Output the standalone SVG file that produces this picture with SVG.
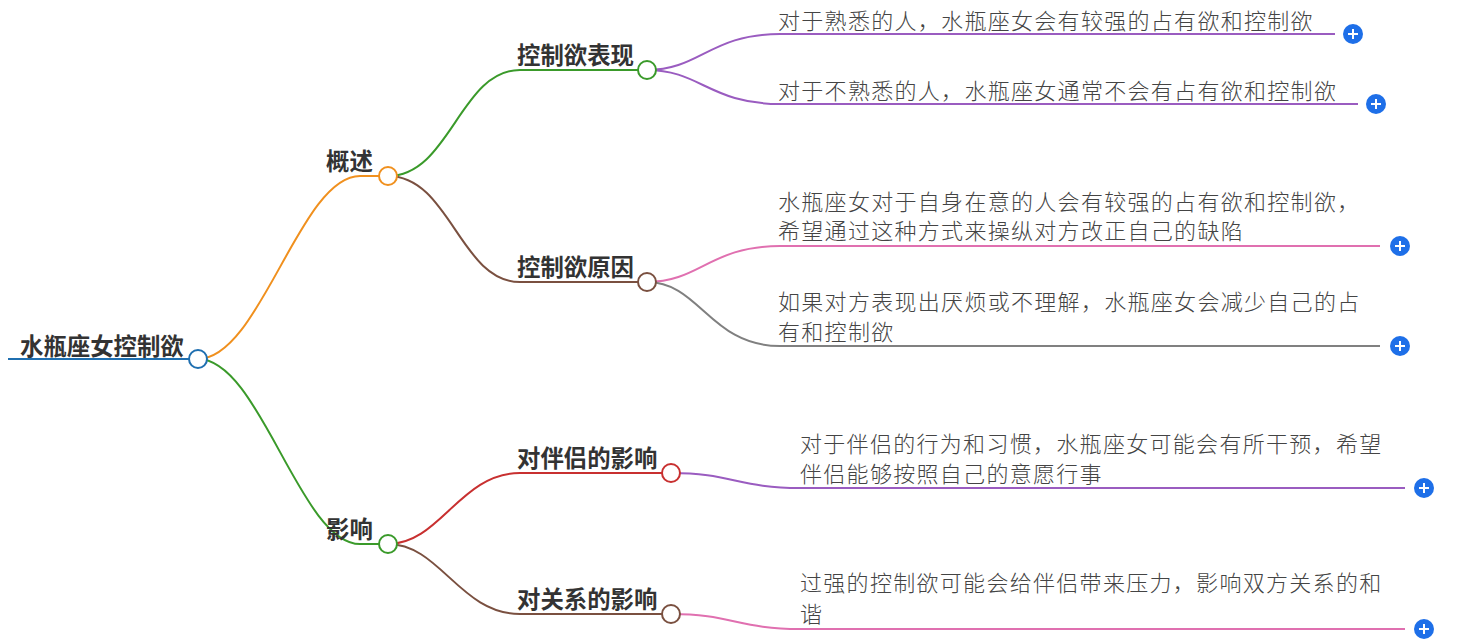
<svg xmlns="http://www.w3.org/2000/svg" width="1466" height="644" viewBox="0 0 1466 644">
<style>
.t{font-family:"Noto Sans CJK SC","Noto Sans",sans-serif;font-size:23.4px;fill:#333}
.b{font-weight:bold}
.l{fill:#444;font-weight:300;font-size:22px;letter-spacing:1.3px}
path{fill:none;stroke-width:2}
.c{fill:#fff;stroke-width:2}
.p{fill:#1e6fe8}
</style>
<rect width="1466" height="644" fill="#fff"/>
<g id="connectors">
<path d="M8 359H190" stroke="#1f6fb0" stroke-width="4"/>
<path d="M198 359C260 359 300 176 360 176H388" stroke="#f0901e"/>
<path d="M198 359C260 359 300 544 360 544H388" stroke="#3a9a2a"/>
<path d="M388 176C450 176 460 70 520 70H647" stroke="#3a9a2a"/>
<path d="M388 176C450 176 460 282 520 282H647" stroke="#7a5040"/>
<path d="M388 544C440 544 460 473 520 473H671" stroke="#c83030"/>
<path d="M388 544C440 544 460 614 520 614H671" stroke="#7a5040"/>
<path d="M647 70C700 70 710 34 780 34H1335" stroke="#9a5cc0"/>
<path d="M647 70C700 70 710 104 780 104H1358" stroke="#9a5cc0"/>
<path d="M647 282C700 282 710 246 780 246H1380" stroke="#e070b0"/>
<path d="M647 282C700 282 710 346 780 346H1380" stroke="#808080"/>
<path d="M671 473C730 473 740 488 800 488H1405" stroke="#9a5cc0"/>
<path d="M671 614C730 614 740 629 800 629H1405" stroke="#e070b0"/>
</g>
<g id="root"><text class="t b" x="20" y="355">水瓶座女控制欲</text><circle class="c" cx="198" cy="359" r="9" stroke="#1f6fb0"/></g>
<g id="n1"><text class="t b" x="326" y="170">概述</text><circle class="c" cx="388" cy="176" r="9" stroke="#f0901e"/></g>
<g id="n2"><text class="t b" x="326" y="538">影响</text><circle class="c" cx="388" cy="544" r="9" stroke="#3a9a2a"/></g>
<g id="n11"><text class="t b" x="517" y="64">控制欲表现</text><circle class="c" cx="647" cy="70" r="9" stroke="#3a9a2a"/></g>
<g id="n12"><text class="t b" x="517" y="276">控制欲原因</text><circle class="c" cx="647" cy="282" r="9" stroke="#7a5040"/></g>
<g id="n21"><text class="t b" x="517" y="467">对伴侣的影响</text><circle class="c" cx="671" cy="473" r="9" stroke="#c83030"/></g>
<g id="n22"><text class="t b" x="517" y="608">对关系的影响</text><circle class="c" cx="671" cy="614" r="9" stroke="#7a5040"/></g>
<g id="l1"><text class="t l" x="778" y="29">对于熟悉的人，水瓶座女会有较强的占有欲和控制欲</text><circle class="p" cx="1353" cy="34" r="10"/><path d="M1348 34h10M1353 29v10" stroke="#fff"/></g>
<g id="l2"><text class="t l" x="778" y="99">对于不熟悉的人，水瓶座女通常不会有占有欲和控制欲</text><circle class="p" cx="1376" cy="104" r="10"/><path d="M1371 104h10M1376 99v10" stroke="#fff"/></g>
<g id="l3"><text class="t l" x="778" y="210">水瓶座女对于自身在意的人会有较强的占有欲和控制欲，</text><text class="t l" x="778" y="239">希望通过这种方式来操纵对方改正自己的缺陷</text><circle class="p" cx="1400" cy="246" r="10"/><path d="M1395 246h10M1400 241v10" stroke="#fff"/></g>
<g id="l4"><text class="t l" x="778" y="310">如果对方表现出厌烦或不理解，水瓶座女会减少自己的占</text><text class="t l" x="778" y="340">有和控制欲</text><circle class="p" cx="1400" cy="346" r="10"/><path d="M1395 346h10M1400 341v10" stroke="#fff"/></g>
<g id="l5"><text class="t l" x="800" y="452">对于伴侣的行为和习惯，水瓶座女可能会有所干预，希望</text><text class="t l" x="800" y="482">伴侣能够按照自己的意愿行事</text><circle class="p" cx="1424" cy="488" r="10"/><path d="M1419 488h10M1424 483v10" stroke="#fff"/></g>
<g id="l6"><text class="t l" x="800" y="591">过强的控制欲可能会给伴侣带来压力，影响双方关系的和</text><text class="t l" x="800" y="622">谐</text><circle class="p" cx="1424" cy="629" r="10"/><path d="M1419 629h10M1424 624v10" stroke="#fff"/></g>
</svg>
